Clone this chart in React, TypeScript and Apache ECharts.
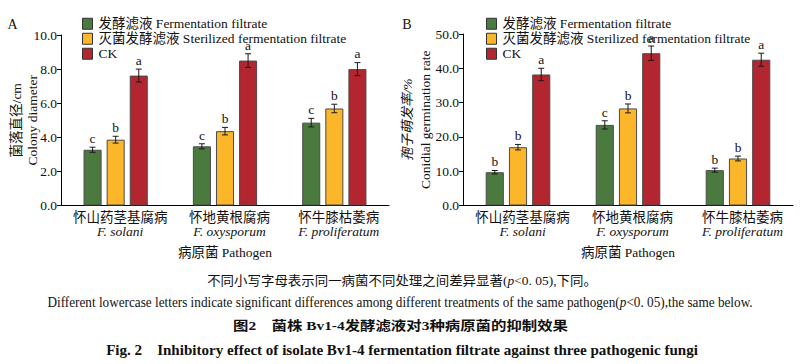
import React, { useEffect, useRef } from "react";
import * as echarts from "echarts";

const FONT = "'Liberation Serif','Times New Roman','Noto Sans CJK SC',serif";

const seriesNames = ["发酵滤液 Fermentation filtrate", "灭菌发酵滤液 Sterilized fermentation filtrate", "CK"];
const colors = ["#4b7a3e", "#fcb62a", "#b3262f"];

const categoriesCn = ["怀山药茎基腐病", "怀地黄根腐病", "怀牛膝枯萎病"];
const categoriesEn = ["F. solani", "F. oxysporum", "F. proliferatum"];

// Panel A: colony diameter (cm)
const colonyFerment = [3.27, 3.47, 4.86];
const colonySterile = [3.86, 4.36, 5.69];
const colonyCK = [7.62, 8.5, 8.0];
const colonyFermentErr = [0.15, 0.15, 0.25];
const colonySterileErr = [0.2, 0.22, 0.25];
const colonyCKErr = [0.38, 0.4, 0.38];
const colonyFermentLetters = ["c", "c", "c"];
const colonySterileLetters = ["b", "b", "b"];
const colonyCKLetters = ["a", "a", "a"];

// Panel B: conidial germination rate (%)
const germFerment = [9.7, 23.5, 10.3];
const germSterile = [17.0, 28.3, 13.7];
const germCK = [38.2, 44.4, 42.5];
const germFermentErr = [0.5, 1.2, 0.6];
const germSterileErr = [0.8, 1.3, 0.7];
const germCKErr = [1.8, 2.1, 1.9];
const germFermentLetters = ["b", "c", "b"];
const germSterileLetters = ["b", "b", "b"];
const germCKLetters = ["a", "a", "a"];

const colonyTicks = { min: 0, max: 10, interval: 2 };
const germTicks = { min: 0, max: 50, interval: 10 };

const caption1 = "不同小写字母表示同一病菌不同处理之间差异显著(p<0. 05),下同。";
const caption2 = "Different lowercase letters indicate significant differences among different treatments of the same pathogen(p<0. 05),the same below.";
const caption3 = "图2　菌株 Bv1-4发酵滤液对3种病原菌的抑制效果";
const caption4 = "Fig. 2　Inhibitory effect of isolate Bv1-4 fermentation filtrate against three pathogenic fungi";

const BAR_FRAC = 0.165;
const GAP_FRAC = 0.28;

function measure(text: string, font: string): number {
  const c = document.createElement("canvas").getContext("2d");
  if (!c) return 1;
  c.font = font;
  return c.measureText(text).width;
}

function italicP(s: string) {
  return s.replace("(p<", "({i|p}<");
}

export default function App() {
  const ref = useRef<HTMLDivElement>(null);
  useEffect(() => {
    if (!ref.current) return;
    const chart = echarts.init(ref.current, null, { renderer: "svg" });

    const makeBars = (gi: number, vals: number[][]) =>
      vals.map((d, k) => ({
        name: seriesNames[k],
        type: "bar",
        xAxisIndex: gi,
        yAxisIndex: gi,
        data: d,
        barWidth: BAR_FRAC * 100 + "%",
        barGap: GAP_FRAC * 100 + "%",
        itemStyle: { color: colors[k], borderColor: "#4a4a4a", borderWidth: 1 },
        silent: true,
      }));

    const makeErr = (gi: number, vals: number[][], errs: number[][], letters: string[][]) =>
      vals.map((d, k) => ({
        name: "err" + gi + "_" + k,
        type: "custom",
        xAxisIndex: gi,
        yAxisIndex: gi,
        silent: true,
        z: 5,
        data: d.map((v, i) => [i, v, errs[k][i]]),
        renderItem: (params: any, api: any) => {
          const cat = api.value(0);
          const mean = api.value(1);
          const sd = api.value(2);
          const band = api.size([1, 0])[0];
          const bw = band * BAR_FRAC;
          const off = (k - 1) * bw * (1 + GAP_FRAC);
          const x = api.coord([cat, mean])[0] + off;
          const yTop = api.coord([cat, mean + sd])[1];
          const yBot = api.coord([cat, mean - sd])[1];
          const cap = 3;
          const st = { stroke: "#1a1a1a", lineWidth: 1 };
          return {
            type: "group",
            children: [
              { type: "line", shape: { x1: x, y1: yTop, x2: x, y2: yBot }, style: st },
              { type: "line", shape: { x1: x - cap, y1: yTop, x2: x + cap, y2: yTop }, style: st },
              { type: "line", shape: { x1: x - cap, y1: yBot, x2: x + cap, y2: yBot }, style: st },
              {
                type: "text",
                x: x,
                y: yTop - 2,
                style: {
                  text: letters[k][params.dataIndex],
                  align: "center",
                  verticalAlign: "bottom",
                  fontSize: 13.5,
                  fontFamily: FONT,
                  fill: "#111",
                },
              },
            ],
          };
        },
      }));

    const xAxis = (gi: number) => ({
      type: "category",
      gridIndex: gi,
      data: categoriesCn,
      axisLine: { lineStyle: { color: "#000", width: 1 } },
      axisTick: { inside: true, length: 5, lineStyle: { color: "#000" } },
      axisLabel: {
        interval: 0,
        hideOverlap: false,
        margin: 5,
        padding: [0, 0, 0, 9],
        formatter: (v: string, i: number) => `{cn|${v}}\n{en|${categoriesEn[i]}}`,
        rich: {
          cn: { fontSize: 13.5, fontFamily: FONT, color: "#111", lineHeight: 14 },
          en: { fontSize: 13.5, fontFamily: FONT, fontStyle: "italic", color: "#111", lineHeight: 14 },
        },
      },
      name: "病原菌 Pathogen",
      nameLocation: "middle",
      nameGap: 40,
      nameMoveOverlap: false,
      nameTextStyle: { fontSize: 13.5, fontFamily: FONT, color: "#111" },
    });

    const yAxis = (gi: number, ticks: any, cn: string, en: string, gap: number, lh: number, cnItalic: boolean) => ({
      type: "value",
      gridIndex: gi,
      min: ticks.min,
      max: ticks.max,
      interval: ticks.interval,
      splitLine: { show: false },
      axisLine: { show: true, lineStyle: { color: "#000", width: 1 } },
      axisTick: { show: true, length: 4, lineStyle: { color: "#000" } },
      axisLabel: {
        margin: 4,
        fontSize: 13.5,
        fontFamily: FONT,
        color: "#111",
        formatter: (v: number) => v.toFixed(1),
      },
      name: `{cn|${cn}}\n{en|${en}}`,
      nameLocation: "middle",
      nameRotate: 90,
      nameGap: gap,
      nameMoveOverlap: false,
      nameTextStyle: {
        rich: {
          cn: { fontSize: 13.5, fontFamily: FONT, color: "#111", lineHeight: lh, fontStyle: cnItalic ? "italic" : "normal" },
          en: { fontSize: 13.5, fontFamily: FONT, color: "#111", lineHeight: lh },
        },
      },
    });

    const legend = (left: number) => ({
      orient: "vertical",
      left,
      top: 12,
      data: seriesNames,
      icon: "rect",
      itemWidth: 10,
      itemHeight: 11,
      itemGap: 1.5,
      selectedMode: false,
      itemStyle: { borderColor: "#333", borderWidth: 1 },
      textStyle: { fontSize: 13.5, lineHeight: 13, fontFamily: FONT, color: "#111", padding: [0, 0, 0, 1] },
    });

    const captionText = (text: string, font: string, sizeFont: string, weight: string, size: number, cx: number, cy: number, width: number, rich: boolean) => {
      const w = measure(text, font);
      const s = w > 0 ? width / w : 1;
      return {
        type: "text",
        x: cx,
        y: cy,
        scaleX: s,
        silent: true,
        style: {
          text: rich ? italicP(text) : text,
          align: "center",
          verticalAlign: "middle",
          fontSize: size,
          fontFamily: sizeFont,
          fontWeight: weight,
          fill: "#111",
          rich: rich
            ? { i: { fontSize: size, fontFamily: sizeFont, fontWeight: weight, fontStyle: "italic", fill: "#111" } }
            : undefined,
        },
      };
    };

    const fam = "'Liberation Serif', 'Noto Sans CJK SC', serif";

    const option: any = {
      animation: false,
      backgroundColor: "#fff",
      textStyle: { fontFamily: FONT },
      grid: [
        { left: 61, top: 35, width: 328, bottom: 364 - 205.5, containLabel: false, outerBoundsMode: "none" },
        { left: 463, top: 34, width: 330, bottom: 364 - 205.5, containLabel: false, outerBoundsMode: "none" },
      ],
      legend: [legend(77), legend(481)],
      xAxis: [xAxis(0), xAxis(1)],
      yAxis: [
        yAxis(0, colonyTicks, "菌落直径/cm", "Colony diameter", 21, 16, false),
        yAxis(1, germTicks, "孢子萌发率/%", "Conidial germination rate", 29, 18, true),
      ],
      series: [
        ...makeBars(0, [colonyFerment, colonySterile, colonyCK]),
        ...makeBars(1, [germFerment, germSterile, germCK]),
        ...makeErr(
          0,
          [colonyFerment, colonySterile, colonyCK],
          [colonyFermentErr, colonySterileErr, colonyCKErr],
          [colonyFermentLetters, colonySterileLetters, colonyCKLetters]
        ),
        ...makeErr(
          1,
          [germFerment, germSterile, germCK],
          [germFermentErr, germSterileErr, germCKErr],
          [germFermentLetters, germSterileLetters, germCKLetters]
        ),
      ],
      graphic: [
        { type: "text", x: 12.5, y: 24, silent: true, style: { text: "A", align: "center", verticalAlign: "middle", fontSize: 14, fontFamily: FONT, fill: "#111" } },
        { type: "text", x: 407, y: 24, silent: true, style: { text: "B", align: "center", verticalAlign: "middle", fontSize: 14, fontFamily: FONT, fill: "#111" } },
        captionText(caption1, "13px " + fam, fam, "normal", 13, 402, 281, 390, true),
        captionText(caption2, "14px " + fam, fam, "normal", 14, 400, 302, 705, true),
        captionText(caption3, "bold 13px " + fam, fam, "bold", 13, 400.5, 325, 335, false),
        captionText(caption4, "bold 14px " + fam, fam, "bold", 14, 402, 350, 592, false),
      ],
    };

    chart.setOption(option);
    return () => chart.dispose();
  }, []);

  return (
    <div
      ref={ref}
      style={{ position: "absolute", left: 0, top: 0, width: 801, height: 364, background: "#fff" }}
    />
  );
}
